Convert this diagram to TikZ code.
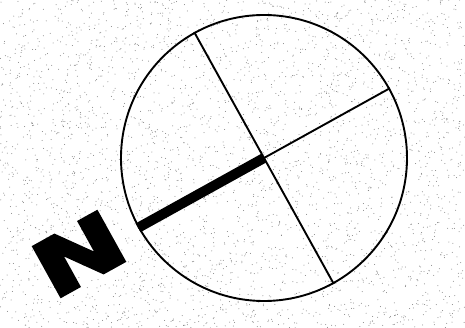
\documentclass[tikz,border=0pt]{standalone}
\usepackage{fontspec}
\newfontfamily\northfont[BoldFeatures={FakeBold=3.5}]{DejaVu Sans}
\usetikzlibrary{positioning}

\begin{document}
\begin{tikzpicture}[
    x=1pt, y=1pt,
    dial/.style={circle, draw=black, line width=1.9pt, inner sep=0pt,
                minimum size=286pt},
    axis/.style={line width=1.9pt},
    needle/.style={line width=10pt},
    speck/.style={fill=black!50},
    letter/.style={inner sep=0pt, font=\northfont\bfseries\fontsize{78}{78}\selectfont,
                rotate=29, xscale=1.4},
]
\useasboundingbox (0,0) rectangle (465,328);

% --- speckled paper ---
\pgfmathsetseed{7}
\foreach \i in {1,...,3400}
  \fill[speck] (465*rnd, 328*rnd) circle (0.5);

% --- dial ---
\node[dial] (dial) at (264,170) {};
\draw[axis] (dial.119) -- (dial.299);
\draw[axis] (dial.29) -- (dial.209);
\draw[needle] (dial.center) -- (dial.209);

% --- north letter ---
\node[letter] (north) at (79,74) {N};

\end{tikzpicture}
\end{document}
